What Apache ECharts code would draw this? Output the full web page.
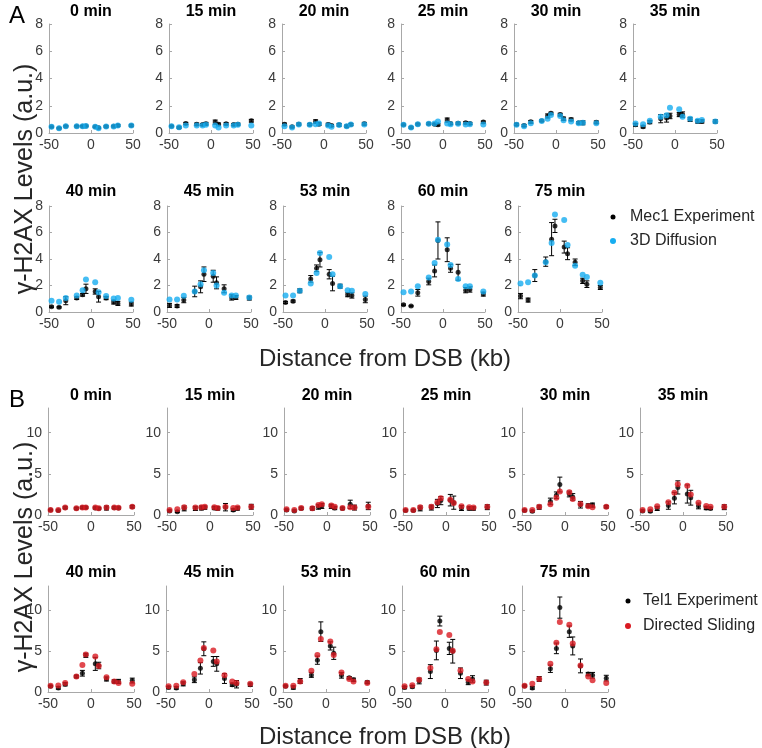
<!DOCTYPE html>
<html><head><meta charset="utf-8">
<script src="https://cdn.jsdelivr.net/npm/echarts@6/dist/echarts.min.js"></script>
<style>html,body{margin:0;padding:0;background:#fff}#c{width:762px;height:748px}</style>
</head><body><div id="c"></div>
<script>
// Distance from DSB (kb) of each measured position
const positions = [-47, -38, -30, -17, -10, -6, 5, 9, 18, 27, 32, 48];

// Panel A: Mec1 experiment (mean, error) and 3D diffusion model
const timesA = ['0 min','15 min','20 min','25 min','30 min','35 min','40 min','45 min','53 min','60 min','75 min'];
const mec1_0 = [0.45, 0.35, 0.5, 0.5, 0.5, 0.52, 0.45, 0.38, 0.48, 0.5, 0.55, 0.55];
const mec1Err_0 = [0.04,0.04,0.05,0.05,0.05,0.05,0.05,0.05,0.05,0.05,0.06,0.06];
const diff3d_0 = [0.45, 0.35, 0.5, 0.5, 0.5, 0.52, 0.45, 0.35, 0.48, 0.48, 0.55, 0.55];
const mec1_15 = [0.5, 0.4, 0.7, 0.65, 0.62, 0.68, 0.8, 0.65, 0.68, 0.62, 0.65, 0.9];
const mec1Err_15 = [0.05,0.05,0.08,0.08,0.08,0.1,0.15,0.08,0.08,0.08,0.08,0.1];
const diff3d_15 = [0.5, 0.42, 0.55, 0.55, 0.55, 0.6, 0.55, 0.4, 0.55, 0.55, 0.6, 0.55];
const mec1_20 = [0.65, 0.45, 0.65, 0.62, 0.85, 0.65, 0.62, 0.55, 0.6, 0.5, 0.62, 0.68];
const mec1Err_20 = [0.08,0.06,0.08,0.08,0.12,0.1,0.1,0.08,0.1,0.08,0.08,0.1];
const diff3d_20 = [0.5, 0.4, 0.62, 0.6, 0.65, 0.7, 0.55, 0.45, 0.58, 0.5, 0.62, 0.62];
const mec1_25 = [0.6, 0.4, 0.65, 0.68, 0.65, 0.6, 0.95, 0.7, 0.72, 0.75, 0.7, 0.8];
const mec1Err_25 = [0.05,0.05,0.06,0.06,0.06,0.08,0.15,0.08,0.08,0.08,0.08,0.08];
const diff3d_25 = [0.6, 0.4, 0.65, 0.68, 0.7, 0.85, 0.7, 0.65, 0.68, 0.62, 0.65, 0.62];
const mec1_30 = [0.63, 0.55, 0.82, 0.9, 1.25, 1.45, 1.35, 1.05, 1.0, 0.75, 0.75, 0.78];
const mec1Err_30 = [0.08,0.08,0.1,0.06,0.15,0.08,0.1,0.12,0.1,0.08,0.15,0.1];
const diff3d_30 = [0.6, 0.5, 0.72, 0.88, 1.05, 1.32, 1.25, 0.93, 0.85, 0.72, 0.75, 0.72];
const mec1_35 = [0.6, 0.45, 0.8, 1.05, 1.1, 1.25, 1.35, 1.35, 1.0, 0.85, 0.85, 0.85];
const mec1Err_35 = [0.1,0.08,0.12,0.3,0.3,0.2,0.15,0.2,0.15,0.12,0.12,0.12];
const diff3d_35 = [0.7, 0.65, 0.9, 1.2, 1.3, 1.85, 1.75, 1.2, 1.05, 0.9, 0.95, 0.85];
const mec1_40 = [0.4, 0.35, 0.85, 1.05, 1.3, 1.75, 1.55, 1.15, 1.05, 0.75, 0.65, 0.6];
const mec1Err_40 = [0.05,0.05,0.3,0.1,0.1,0.35,0.2,0.4,0.12,0.15,0.15,0.15];
const diff3d_40 = [0.85, 0.78, 1.05, 1.25, 1.65, 2.45, 2.25, 1.5, 1.2, 1.02, 1.05, 0.92];
const mec1_45 = [0.5, 0.45, 0.9, 1.55, 1.9, 2.85, 2.7, 2.2, 1.75, 1.1, 1.1, 1.05];
const mec1Err_45 = [0.15,0.1,0.2,0.4,0.45,0.55,0.45,0.45,0.3,0.2,0.15,0.15];
const diff3d_45 = [0.95, 0.95, 1.22, 1.55, 2.1, 3.15, 2.95, 2.0, 1.45, 1.25, 1.25, 1.1];
const mec1_53 = [0.72, 0.82, 1.6, 2.5, 3.3, 3.95, 2.85, 2.15, 1.95, 1.3, 1.25, 0.95];
const mec1Err_53 = [0.08,0.08,0.15,0.25,0.25,0.55,0.35,0.55,0.15,0.15,0.2,0.25];
const diff3d_53 = [1.25, 1.25, 1.6, 2.15, 2.95, 4.45, 4.15, 2.85, 1.95, 1.65, 1.6, 1.35];
const mec1_60 = [0.55, 0.45, 1.45, 2.3, 3.1, 5.4, 4.7, 3.3, 3.0, 1.65, 1.7, 1.35];
const mec1Err_60 = [0.05,0.05,0.25,0.25,0.45,1.4,0.9,0.3,0.6,0.2,0.2,0.15];
const diff3d_60 = [1.5, 1.55, 1.95, 2.6, 3.7, 5.45, 5.1, 3.55, 2.5, 1.95, 1.95, 1.55];
const mec1_75 = [1.2, 0.9, 2.75, 3.8, 5.5, 6.5, 4.9, 4.4, 3.75, 2.35, 2.1, 1.85];
const mec1Err_75 = [0.2,0.15,0.45,0.35,1.25,0.5,0.45,0.45,0.25,0.2,0.25,0.15];
const diff3d_75 = [2.15, 2.25, 2.75, 3.75, 5.2, 7.35, 6.95, 5.05, 3.5, 2.82, 2.65, 2.2];

// Panel B: Tel1 experiment (mean, error) and directed sliding model
const timesB = ['0 min','15 min','20 min','25 min','30 min','35 min','40 min','45 min','53 min','60 min','75 min'];
const tel1_0 = [0.6, 0.55, 0.88, 0.8, 0.9, 0.9, 0.85, 0.8, 0.85, 0.88, 0.85, 1.0];
const tel1Err_0 = [0.08,0.08,0.12,0.1,0.1,0.1,0.12,0.1,0.25,0.12,0.12,0.15];
const sliding_0 = [0.6, 0.6, 0.9, 0.82, 0.92, 0.92, 0.9, 0.82, 0.92, 0.9, 0.88, 1.0];
const tel1_15 = [0.5, 0.4, 0.8, 0.8, 0.85, 0.9, 0.85, 0.8, 0.95, 0.6, 0.8, 1.0];
const tel1Err_15 = [0.1,0.1,0.3,0.25,0.25,0.2,0.2,0.2,0.45,0.15,0.2,0.3];
const sliding_15 = [0.6, 0.7, 0.95, 0.9, 0.95, 1.0, 0.95, 0.85, 1.0, 0.85, 0.9, 1.0];
const tel1_20 = [0.6, 0.5, 0.8, 0.8, 1.0, 1.1, 1.05, 0.85, 0.8, 1.3, 0.9, 1.1];
const tel1Err_20 = [0.1,0.1,0.15,0.2,0.3,0.3,0.25,0.2,0.15,0.5,0.3,0.45];
const sliding_20 = [0.7, 0.6, 0.85, 0.82, 1.2, 1.3, 1.15, 1.0, 0.85, 0.95, 0.9, 1.0];
const tel1_25 = [0.55, 0.55, 0.8, 0.9, 1.4, 1.75, 1.8, 1.5, 0.85, 0.8, 0.8, 0.95];
const tel1Err_25 = [0.1,0.1,0.3,0.3,0.5,0.5,0.7,0.8,0.3,0.2,0.2,0.3];
const sliding_25 = [0.6, 0.6, 0.95, 1.0, 1.55, 2.05, 1.85, 1.45, 1.05, 0.95, 0.9, 1.0];
const tel1_30 = [0.55, 0.45, 0.95, 1.65, 2.4, 3.7, 2.55, 2.2, 1.25, 1.15, 1.2, 1.0];
const tel1Err_30 = [0.1,0.1,0.25,0.4,0.4,0.9,0.35,0.4,0.4,0.2,0.25,0.15];
const sliding_30 = [0.6, 0.6, 1.0, 1.3, 2.1, 2.85, 2.75, 1.95, 1.35, 1.05, 0.95, 1.0];
const tel1_35 = [0.5, 0.45, 0.8, 1.15, 2.05, 3.35, 2.55, 2.1, 1.1, 0.85, 0.8, 0.95];
const tel1Err_35 = [0.1,0.1,0.25,0.45,0.7,0.8,1.1,0.9,0.35,0.2,0.15,0.3];
const sliding_35 = [0.6, 0.7, 1.05, 1.55, 2.7, 3.75, 3.55, 2.5, 1.5, 1.1, 1.0, 1.0];
const tel1_40 = [0.7, 0.5, 0.95, 1.9, 2.3, 4.5, 3.45, 3.25, 1.6, 1.3, 1.3, 1.4];
const tel1Err_40 = [0.1,0.15,0.2,0.15,0.35,0.25,0.8,0.4,0.25,0.2,0.25,0.3];
const sliding_40 = [0.78, 0.8, 1.1, 1.9, 3.3, 4.6, 4.35, 3.2, 1.8, 1.3, 1.1, 1.0];
const tel1_45 = [0.55, 0.5, 1.0, 1.5, 2.9, 5.3, 3.75, 3.45, 1.65, 0.9, 0.95, 0.9];
const tel1Err_45 = [0.15,0.15,0.25,0.35,0.7,0.85,0.6,0.9,0.6,0.2,0.45,0.2];
const sliding_45 = [0.7, 0.78, 1.2, 2.2, 3.85, 5.4, 5.1, 3.75, 2.05, 1.3, 1.1, 1.0];
const tel1_53 = [0.72, 0.55, 1.35, 2.1, 3.9, 7.4, 5.65, 4.75, 2.05, 1.75, 1.5, 1.2];
const tel1Err_53 = [0.1,0.2,0.3,0.3,0.5,1.2,0.5,0.75,0.35,0.15,0.2,0.15];
const sliding_53 = [0.78, 0.78, 1.3, 2.6, 4.55, 6.5, 6.2, 4.55, 2.4, 1.6, 1.3, 1.1];
const tel1_60 = [0.55, 0.65, 1.35, 2.5, 5.1, 8.7, 5.35, 5.0, 2.3, 1.2, 1.6, 1.15];
const tel1Err_60 = [0.15,0.15,0.35,0.85,1.15,0.6,0.75,1.45,0.65,0.3,0.4,0.3];
const sliding_60 = [0.7, 0.82, 1.5, 2.95, 5.25, 7.35, 7.0, 5.05, 2.65, 1.6, 1.3, 1.15];
const tel1_75 = [0.75, 0.5, 1.6, 2.85, 5.35, 10.35, 7.4, 5.65, 3.2, 2.2, 2.05, 1.7];
const tel1Err_75 = [0.1,0.15,0.3,0.45,0.65,1.3,0.7,1.1,0.85,0.2,0.35,0.35];
const sliding_75 = [0.78, 1.0, 1.6, 3.45, 6.05, 8.6, 8.25, 5.95, 3.25, 1.9, 1.45, 1.1];

const xTicks = [-50, 0, 50];

const panelA = [
  [mec1_0, mec1Err_0, diff3d_0], [mec1_15, mec1Err_15, diff3d_15], [mec1_20, mec1Err_20, diff3d_20],
  [mec1_25, mec1Err_25, diff3d_25], [mec1_30, mec1Err_30, diff3d_30], [mec1_35, mec1Err_35, diff3d_35],
  [mec1_40, mec1Err_40, diff3d_40], [mec1_45, mec1Err_45, diff3d_45], [mec1_53, mec1Err_53, diff3d_53],
  [mec1_60, mec1Err_60, diff3d_60], [mec1_75, mec1Err_75, diff3d_75]
];
const panelB = [
  [tel1_0, tel1Err_0, sliding_0], [tel1_15, tel1Err_15, sliding_15], [tel1_20, tel1Err_20, sliding_20],
  [tel1_25, tel1Err_25, sliding_25], [tel1_30, tel1Err_30, sliding_30], [tel1_35, tel1Err_35, sliding_35],
  [tel1_40, tel1Err_40, sliding_40], [tel1_45, tel1Err_45, sliding_45], [tel1_53, tel1Err_53, sliding_53],
  [tel1_60, tel1Err_60, sliding_60], [tel1_75, tel1Err_75, sliding_75]
];

const FONT = "'Liberation Sans', Arial, Helvetica, sans-serif";
const BLUE = '#17adf0';
const RED = '#d91a22';
const AXIS = '#a8a8a8';
const LABEL = '#3a3a3a';

// Layout of each row of subplots
const rows = [
  {panel: 'A', lefts: [49,169,282,401,514,633], top: 24, height: 109, width: 84, titleY: 12, first: 0},
  {panel: 'A', lefts: [49,167,283,401,518], top: 206, height: 106, width: 84, titleY: 192, first: 6},
  {panel: 'B', lefts: [48,167,284,403,522,640], top: 408, height: 107, width: 86, titleY: 396, first: 0},
  {panel: 'B', lefts: [48,166,283,402,522], top: 586, height: 106, width: 86, titleY: 573, first: 6}
];

const grids = [], xAxes = [], yAxes = [], series = [], graphics = [];

function renderErr(params, api) {
  const x = api.value(0), lo = api.value(1), hi = api.value(2);
  const p1 = api.coord([x, lo]), p2 = api.coord([x, hi]);
  const w = 2.5;
  const st = {stroke: '#000', lineWidth: 1};
  return {type: 'group', children: [
    {type: 'line', shape: {x1: p1[0], y1: p1[1], x2: p2[0], y2: p2[1]}, style: st},
    {type: 'line', shape: {x1: p1[0]-w, y1: p1[1], x2: p1[0]+w, y2: p1[1]}, style: st},
    {type: 'line', shape: {x1: p2[0]-w, y1: p2[1], x2: p2[0]+w, y2: p2[1]}, style: st}
  ]};
}

rows.forEach(row => {
  row.lefts.forEach((left, j) => {
    const idx = row.first + j;
    const g = grids.length;
    const isA = row.panel === 'A';
    const d = isA ? panelA[idx] : panelB[idx];
    const title = isA ? timesA[idx] : timesB[idx];
    grids.push({left: left, top: row.top, width: row.width, height: row.height, outerBoundsMode: 'none'});
    xAxes.push({
      gridIndex: g, type: 'value', min: xTicks[0], max: xTicks[2], interval: 50,
      axisLine: {onZero: false, lineStyle: {color: AXIS, width: 1}},
      axisTick: {show: true, inside: true, length: 3, lineStyle: {color: AXIS}},
      axisLabel: {color: LABEL, fontSize: 14, fontFamily: FONT, margin: 5},
      splitLine: {show: false}
    });
    yAxes.push({
      gridIndex: g, type: 'value', min: 0, max: isA ? 8 : 13, interval: isA ? 2 : 5,
      axisLine: {show: true, onZero: false, lineStyle: {color: AXIS, width: 1}},
      axisTick: {show: true, inside: true, length: 3, lineStyle: {color: AXIS}},
      axisLabel: {color: LABEL, fontSize: 14, fontFamily: FONT, margin: 6, showMaxLabel: isA},
      splitLine: {show: false}
    });
    const mean = d[0], err = d[1], model = d[2];
    series.push({
      type: 'custom', xAxisIndex: g, yAxisIndex: g, z: 2, silent: true,
      renderItem: renderErr, encode: {x: 0, y: [1, 2]},
      data: positions.map((x, i) => [x, mean[i] - err[i], mean[i] + err[i]])
    });
    series.push({
      type: 'scatter', xAxisIndex: g, yAxisIndex: g, z: 3, symbol: 'circle', symbolSize: 5,
      itemStyle: {color: '#000'}, silent: true,
      data: positions.map((x, i) => [x, mean[i]])
    });
    series.push({
      type: 'scatter', xAxisIndex: g, yAxisIndex: g, z: 4, symbol: 'circle', symbolSize: 6,
      itemStyle: {color: isA ? BLUE : RED}, silent: true,
      data: positions.map((x, i) => [x, model[i]])
    });
    graphics.push({type: 'text', x: left + row.width / 2, y: row.titleY,
      style: {text: title, font: 'bold 16px ' + FONT, fill: '#000', align: 'center', verticalAlign: 'middle'}});
  });
});

// Panel letters
graphics.push({type: 'text', x: 17, y: 16, style: {text: 'A', font: '24px ' + FONT, fill: '#000', align: 'center', verticalAlign: 'middle'}});
graphics.push({type: 'text', x: 17, y: 400, style: {text: 'B', font: '24px ' + FONT, fill: '#000', align: 'center', verticalAlign: 'middle'}});
// Axis titles
const yTitle = 'γ-H2AX Levels (a.u.)';
const xTitle = 'Distance from DSB (kb)';
[179, 557].forEach(cy => graphics.push({type: 'text', x: 25, y: cy, rotation: Math.PI / 2,
  style: {text: yTitle, font: '25px ' + FONT, fill: '#262626', align: 'center', verticalAlign: 'middle'}}));
[359, 737].forEach(cy => graphics.push({type: 'text', x: 385, y: cy,
  style: {text: xTitle, font: '24px ' + FONT, fill: '#262626', align: 'center', verticalAlign: 'middle'}}));
// Legends
const legendA = ['Mec1 Experiment', '3D Diffusion'];
const legendB = ['Tel1 Experiment', 'Directed Sliding'];
[[legendA, 613, 630, [217, 241], ['#000', BLUE]], [legendB, 628, 643, [601, 626], ['#000', RED]]].forEach(L => {
  L[0].forEach((name, k) => {
    graphics.push({type: 'circle', shape: {cx: L[1], cy: L[3][k], r: k === 0 ? 2.5 : 3}, style: {fill: L[4][k]}});
    graphics.push({type: 'text', x: L[2], y: L[3][k], style: {text: name, font: '16px ' + FONT, fill: '#262626', align: 'left', verticalAlign: 'middle'}});
  });
});

const chart = echarts.init(document.getElementById('c'), null, {renderer: 'canvas'});
chart.setOption({
  animation: false,
  backgroundColor: '#fff',
  grid: grids, xAxis: xAxes, yAxis: yAxes, series: series,
  graphic: {elements: graphics}
});
</script>
</body></html>
